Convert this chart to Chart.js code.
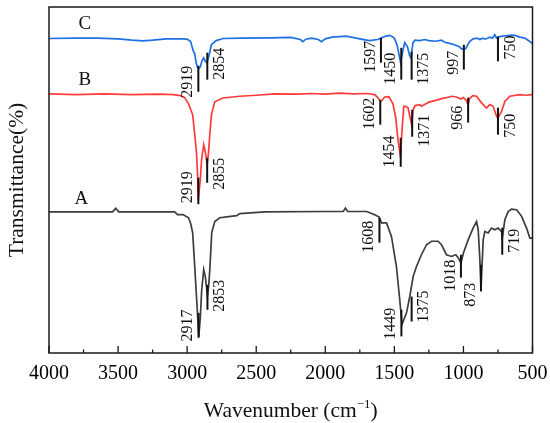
<!DOCTYPE html>
<html>
<head>
<meta charset="utf-8">
<script src="https://cdn.jsdelivr.net/npm/chart.js@4/dist/chart.umd.min.js"></script>
<style>
  html, body { margin: 0; padding: 0; background: #fff; }
  #wrap { width: 550px; height: 423px; }
</style>
</head>
<body>
<div id="wrap"><canvas id="ftirChart"></canvas></div>
<script>
// Wavenumber (cm-1) and transmittance (offset, arbitrary %)
const waveA = [4000, 3700, 3540, 3517, 3495, 3200, 3090, 3070, 3030, 2990, 2975, 2960, 2945, 2931, 2916, 2905, 2895, 2880, 2868, 2853,
  2843, 2836, 2822, 2800, 2764, 2700, 2641, 2619, 2438, 2000, 1870, 1854, 1838, 1700, 1665, 1645, 1610, 1593, 1557, 1521,
  1485, 1461, 1445, 1412, 1388, 1364, 1340, 1304, 1267, 1231, 1183, 1159, 1123, 1086, 1055, 1037, 1018, 1000, 966, 930,
  905, 893, 881, 873, 857, 845, 821, 797, 773, 749, 724, 719, 700, 676, 652, 615, 579, 543, 519, 500];
const transA = [40.8, 40.8, 40.8, 41.8, 40.8, 40.8, 40.8, 40.0, 40.0, 39.1, 37.5, 34.8, 25.0, 15.4, 4.8, 10.0, 18.0, 24.1, 22.0, 16.4,
  20.0, 24.1, 34.8, 38.0, 39.1, 39.4, 39.7, 40.3, 40.8, 40.9, 40.9, 41.9, 40.9, 40.9, 40.3, 40.0, 39.3, 37.6, 37.6, 33.7,
  25.0, 15.4, 8.2, 11.6, 16.4, 22.1, 25.0, 28.4, 31.3, 32.3, 32.3, 31.3, 28.4, 27.9, 28.4, 27.5, 26.0, 28.9, 32.7, 36.1,
  38.0, 35.6, 27.0, 18.3, 32.7, 35.1, 34.7, 36.1, 35.6, 36.1, 35.1, 33.2, 38.5, 40.9, 41.6, 41.4, 39.5, 36.1, 33.2, 33.2];

const waveB = [4000, 3800, 3600, 3400, 3200, 3100, 3050, 3018, 2990, 2960, 2945, 2933, 2925, 2919, 2905, 2895, 2880, 2868, 2855, 2845,
  2836, 2824, 2800, 2742, 2619, 2500, 2366, 2200, 2100, 2000, 1900, 1800, 1690, 1640, 1620, 1602, 1590, 1570, 1540, 1510,
  1490, 1475, 1455, 1445, 1432, 1418, 1400, 1386, 1375, 1364, 1350, 1316, 1304, 1250, 1200, 1159, 1100, 1086, 1050, 1020,
  1000, 980, 966, 955, 932, 905, 869, 833, 809, 785, 760, 750, 724, 700, 664, 592, 550, 500];
const transB = [74.9, 74.7, 74.9, 74.7, 74.8, 74.7, 74.4, 73.8, 72.0, 68.9, 63.1, 58.3, 52.0, 44.3, 50.0, 56.0, 60.2, 58.0, 54.4, 58.0,
  63.1, 68.9, 72.6, 73.7, 74.2, 74.5, 74.9, 74.8, 75.0, 74.8, 75.1, 74.9, 75.0, 74.6, 73.8, 72.7, 73.0, 74.0, 74.1, 72.0,
  68.0, 62.0, 56.5, 64.0, 71.3, 71.3, 70.8, 68.0, 66.0, 70.3, 71.5, 71.8, 71.3, 72.5, 73.0, 73.5, 74.0, 74.2, 74.0, 73.4,
  73.8, 73.0, 71.8, 73.5, 74.4, 74.2, 72.3, 70.8, 71.8, 71.3, 68.4, 67.9, 69.8, 72.7, 74.2, 74.7, 74.5, 74.7];

const waveC = [4000, 3800, 3650, 3500, 3400, 3320, 3250, 3150, 3050, 3000, 2975, 2955, 2945, 2935, 2925, 2915, 2905, 2892, 2880, 2868,
  2858, 2845, 2824, 2790, 2740, 2600, 2400, 2250, 2180, 2163, 2140, 2100, 2050, 2028, 2000, 1950, 1850, 1750, 1680, 1620,
  1597, 1560, 1533, 1500, 1480, 1455, 1440, 1425, 1405, 1390, 1380, 1365, 1350, 1316, 1280, 1250, 1200, 1160, 1135, 1100,
  1060, 1030, 1010, 997, 985, 970, 955, 930, 900, 880, 860, 840, 810, 790, 773, 760, 750, 730, 700, 650,
  628, 590, 555, 530, 500];
const transC = [90.9, 91.0, 91.0, 90.8, 90.4, 90.2, 90.4, 90.8, 90.8, 90.7, 90.0, 87.2, 86.5, 83.9, 82.5, 82.2, 82.7, 84.5, 85.3, 84.3,
  83.9, 85.5, 89.1, 90.3, 90.9, 91.0, 91.1, 91.2, 90.6, 90.0, 90.7, 91.0, 90.6, 90.0, 90.8, 91.3, 91.6, 90.8, 90.3, 90.6,
  91.0, 91.6, 91.8, 91.0, 89.0, 84.0, 87.0, 89.7, 88.5, 86.0, 85.3, 89.7, 90.4, 90.3, 90.6, 90.3, 90.1, 90.4, 89.8, 89.5,
  89.0, 88.5, 87.8, 88.0, 87.9, 89.0, 90.0, 90.8, 91.0, 90.6, 91.0, 90.7, 91.3, 91.0, 92.0, 91.0, 91.2, 91.5, 91.7, 91.9,
  91.8, 91.3, 91.0, 90.3, 89.4];

// Assigned bands: wavenumber, marker span (top/bottom) and where the label starts, in transmittance units
const peaksA = [2917, 2853, 1608, 1449, 1375, 1018, 873, 719];
const markTopA = [11.6, 19.7, 39.1, 12.5, 16.3, 28.4, 25.5, 36.2];
const markBottomA = [4.4, 12.5, 31.9, 4.8, 9.1, 21.8, 17.8, 28.4];
const labelAtA = [3.3, 11.9, 29.0, 3.8, 8.8, 17.7, 13.4, 29.0];

const peaksB = [2919, 2855, 1602, 1454, 1371, 966, 750];
const markTopB = [50.7, 56.4, 73.2, 62.2, 70.3, 73.8, 70.9];
const markBottomB = [43.0, 49.2, 66.0, 53.8, 62.5, 66.6, 63.1];
const labelAtB = [43.3, 47.2, 64.5, 53.6, 59.6, 64.5, 62.2];

const peaksC = [2919, 2854, 1597, 1450, 1375, 997, 750];
const markTopC = [83.0, 86.8, 91.1, 88.2, 87.1, 89.1, 91.5];
const markBottomC = [75.5, 79.0, 83.9, 79.0, 79.0, 81.9, 84.3];
const labelAtC = [73.8, 79.0, 81.0, 77.5, 77.5, 80.4, 84.8];

const seriesNames = ['A', 'B', 'C'];

document.addEventListener('DOMContentLoaded', () => {
    const serif = "'Liberation Serif', 'Times New Roman', serif";

    // which bands get their number on the right of the marker
    const rightSide = {
        A: [2853, 1375, 719],
        B: [2855, 1371, 750],
        C: [2854, 1375, 750]
    };
    // where the A / B / C tags sit (wavenumber, transmittance)
    const tagAt = { A: [3765, 44.6], B: [3741, 79.0], C: [3741, 95.2] };

    const bands = [
        { name: 'A', peaks: peaksA, top: markTopA, bottom: markBottomA, labelAt: labelAtA },
        { name: 'B', peaks: peaksB, top: markTopB, bottom: markBottomB, labelAt: labelAtB },
        { name: 'C', peaks: peaksC, top: markTopC, bottom: markBottomC, labelAt: labelAtC }
    ];

    function toPoints(wave, trans) {
        return wave.map((w, i) => ({ x: w, y: trans[i] }));
    }

    // Frame, inward ticks, band markers, titles
    const ftirDecor = {
        id: 'ftirDecor',
        afterDatasetsDraw(chart) {
            const { ctx, chartArea: area, scales: { x, y } } = chart;
            ctx.save();

            // frame
            ctx.strokeStyle = '#1a1a1a';
            ctx.lineWidth = 1.5;
            ctx.strokeRect(area.left, area.top, area.right - area.left, area.bottom - area.top);

            // ticks pointing into the plot (major every 500, minor in between)
            ctx.lineWidth = 1.3;
            const majors = x.ticks.map(t => t.value);
            majors.forEach((v, i) => {
                const px = x.getPixelForValue(v);
                ctx.beginPath();
                ctx.moveTo(px, area.bottom);
                ctx.lineTo(px, area.bottom - 7);
                ctx.stroke();
                if (i < majors.length - 1) {
                    const mx = x.getPixelForValue((v + majors[i + 1]) / 2);
                    ctx.beginPath();
                    ctx.moveTo(mx, area.bottom);
                    ctx.lineTo(mx, area.bottom - 3.5);
                    ctx.stroke();
                }
            });

            // band markers and numbers
            ctx.fillStyle = '#111';
            ctx.strokeStyle = '#111';
            ctx.font = '16px ' + serif;
            ctx.textAlign = 'left';
            ctx.textBaseline = 'middle';
            bands.forEach(b => {
                b.peaks.forEach((wn, i) => {
                    const px = x.getPixelForValue(wn);
                    ctx.lineWidth = 2;
                    ctx.beginPath();
                    ctx.moveTo(px, y.getPixelForValue(b.top[i]));
                    ctx.lineTo(px, y.getPixelForValue(b.bottom[i]));
                    ctx.stroke();

                    const onRight = rightSide[b.name].includes(wn);
                    ctx.save();
                    ctx.translate(px + (onRight ? 12.5 : -10.5), y.getPixelForValue(b.labelAt[i]));
                    ctx.rotate(-Math.PI / 2);
                    ctx.fillText(String(wn), 0, 0);
                    ctx.restore();
                });
            });

            // sample tags
            ctx.font = '19px ' + serif;
            ctx.textAlign = 'center';
            ctx.textBaseline = 'middle';
            seriesNames.forEach(n => {
                ctx.fillText(n, x.getPixelForValue(tagAt[n][0]), y.getPixelForValue(tagAt[n][1]));
            });

            // x title with superscript
            const cx = (area.left + area.right) / 2;
            const ty = 410;
            ctx.textBaseline = 'alphabetic';
            ctx.textAlign = 'left';
            const big = '21.5px ' + serif;
            const small = '13px ' + serif;
            ctx.font = big;
            const w1 = ctx.measureText('Wavenumber (cm').width;
            const w3 = ctx.measureText(')').width;
            ctx.font = small;
            const w2 = ctx.measureText('\u22121').width;
            let sx = cx - (w1 + w2 + w3) / 2;
            const base = ty + 7;
            ctx.font = big;
            ctx.fillText('Wavenumber (cm', sx, base);
            sx += w1;
            ctx.font = small;
            ctx.fillText('\u22121', sx, base - 9);
            sx += w2;
            ctx.font = big;
            ctx.fillText(')', sx, base);

            // y title
            ctx.save();
            ctx.translate(17, (area.top + area.bottom) / 2);
            ctx.rotate(-Math.PI / 2);
            ctx.textAlign = 'center';
            ctx.textBaseline = 'middle';
            ctx.font = big;
            ctx.fillText('Transmittance(%)', 0, 0);
            ctx.restore();

            ctx.restore();
        }
    };

    const ctx = document.getElementById('ftirChart').getContext('2d');
    new Chart(ctx, {
        type: 'line',
        data: {
            datasets: [
                { label: seriesNames[0], data: toPoints(waveA, transA), borderColor: '#3d3d3d' },
                { label: seriesNames[1], data: toPoints(waveB, transB), borderColor: '#ff3b3b' },
                { label: seriesNames[2], data: toPoints(waveC, transC), borderColor: '#1f6fe5' }
            ]
        },
        options: {
            responsive: true,
            maintainAspectRatio: false,
            animation: false,
            parsing: false,
            elements: {
                line: { borderWidth: 1.7, tension: 0, fill: false },
                point: { radius: 0 }
            },
            layout: { padding: { left: 49, right: 17.5, top: 7, bottom: 0 } },
            plugins: {
                legend: { display: false },
                tooltip: { enabled: false }
            },
            scales: {
                x: {
                    type: 'linear',
                    reverse: true,
                    min: 500,
                    max: 4000,
                    grid: { display: false, drawTicks: false },
                    border: { display: false },
                    ticks: {
                        stepSize: 500,
                        maxRotation: 0,
                        padding: 9,
                        color: '#000',
                        font: { family: serif, size: 20 },
                        callback: v => String(v)
                    },
                    // reversed axis: don't let the "4000" label width pad the right side
                    afterFit: s => {
                        s.height = 70;
                        s.paddingLeft = 0;
                        s.paddingRight = 0;
                    }
                },
                y: {
                    display: false,
                    min: 0,
                    max: 100
                }
            }
        },
        plugins: [ftirDecor]
    });
});
</script>
</body>
</html>
